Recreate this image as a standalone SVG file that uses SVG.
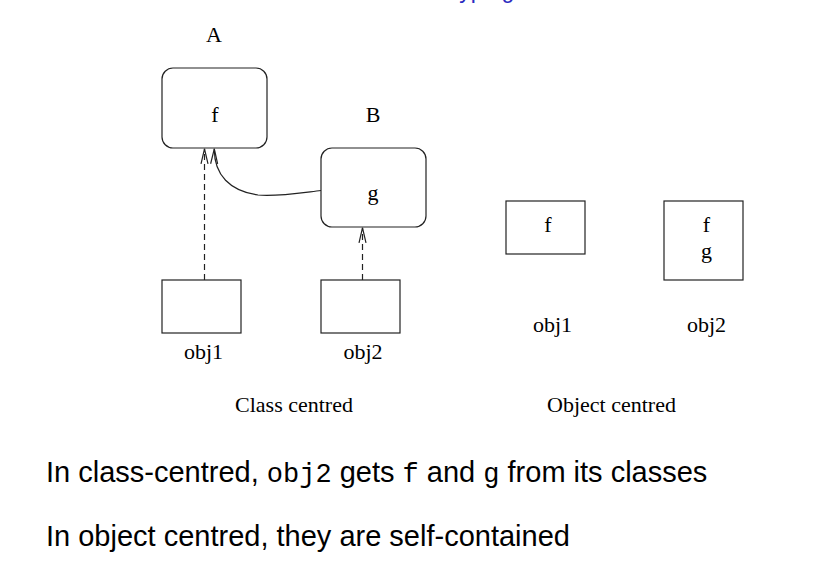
<svg xmlns="http://www.w3.org/2000/svg" width="832" height="562" viewBox="0 0 832 562">
<style>
.box{fill:#fff;stroke:#222;stroke-width:1.2}
.ser{font-family:"Liberation Serif","Times New Roman",serif;font-size:22px;fill:#000;text-anchor:middle}
.sans{font-family:"Liberation Sans",Arial,sans-serif;font-size:29px;fill:#000}
.mono{font-family:"Liberation Mono","Courier New",monospace;font-size:27px}
.conn{fill:none;stroke:#222;stroke-width:1.2}
.dash{stroke-dasharray:6 4}
</style>
<defs>
<marker id="open" viewBox="0 0 16 10" refX="15" refY="5" markerWidth="16" markerHeight="10" markerUnits="userSpaceOnUse" orient="auto">
<path d="M0,1.5 L15,5 L0,8.5" fill="none" stroke="#222" stroke-width="1.2"/>
</marker>
</defs>
<rect width="832" height="562" fill="#fff"/>
<text x="398" y="-2" font-family="Liberation Sans,Arial,sans-serif" font-size="23" fill="#2b2bbf">Prototyping</text>
<g id="classA">
<text class="ser" x="214" y="42">A</text>
<rect class="box" x="162" y="68" width="105" height="80" rx="11"/>
<text class="ser" x="215" y="121.5">f</text>
</g>
<g id="classB">
<text class="ser" x="373" y="121.5">B</text>
<rect class="box" x="321" y="148" width="105" height="79" rx="11"/>
<text class="ser" x="373" y="200">g</text>
</g>
<g id="obj1c">
<rect class="box" x="162" y="280" width="79" height="53"/>
<text class="ser" x="203.5" y="359">obj1</text>
</g>
<g id="obj2c">
<rect class="box" x="321" y="280" width="79" height="53"/>
<text class="ser" x="363" y="359">obj2</text>
</g>
<g id="obj1o">
<rect class="box" x="506" y="201" width="79" height="53"/>
<text class="ser" x="548" y="232">f</text>
<text class="ser" x="552.5" y="332">obj1</text>
</g>
<g id="obj2o">
<rect class="box" x="664" y="201" width="79" height="79"/>
<text class="ser" x="706.5" y="232">f</text>
<text class="ser" x="706.5" y="258">g</text>
<text class="ser" x="706.5" y="332">obj2</text>
</g>
<g id="connectors">
<path class="conn dash" d="M204.5,280 L204.5,148.8" marker-end="url(#open)"/>
<path class="conn dash" d="M362.5,280 L362.5,227.8" marker-end="url(#open)"/>
<path class="conn" d="M321,190.5 C300,193 275,197 258,195 C230,191 214,175 214.3,148.8" marker-end="url(#open)"/>
</g>
<g id="captions">
<text class="ser" x="294" y="411.5">Class centred</text>
<text class="ser" x="611.5" y="411.5">Object centred</text>
</g>
<text class="sans" x="46" y="482.3">In class-centred, <tspan class="mono">obj2</tspan> gets <tspan class="mono">f</tspan> and <tspan class="mono">g</tspan> from its classes</text>
<text class="sans" x="46" y="545.7">In object centred, they are self-contained</text>
</svg>
